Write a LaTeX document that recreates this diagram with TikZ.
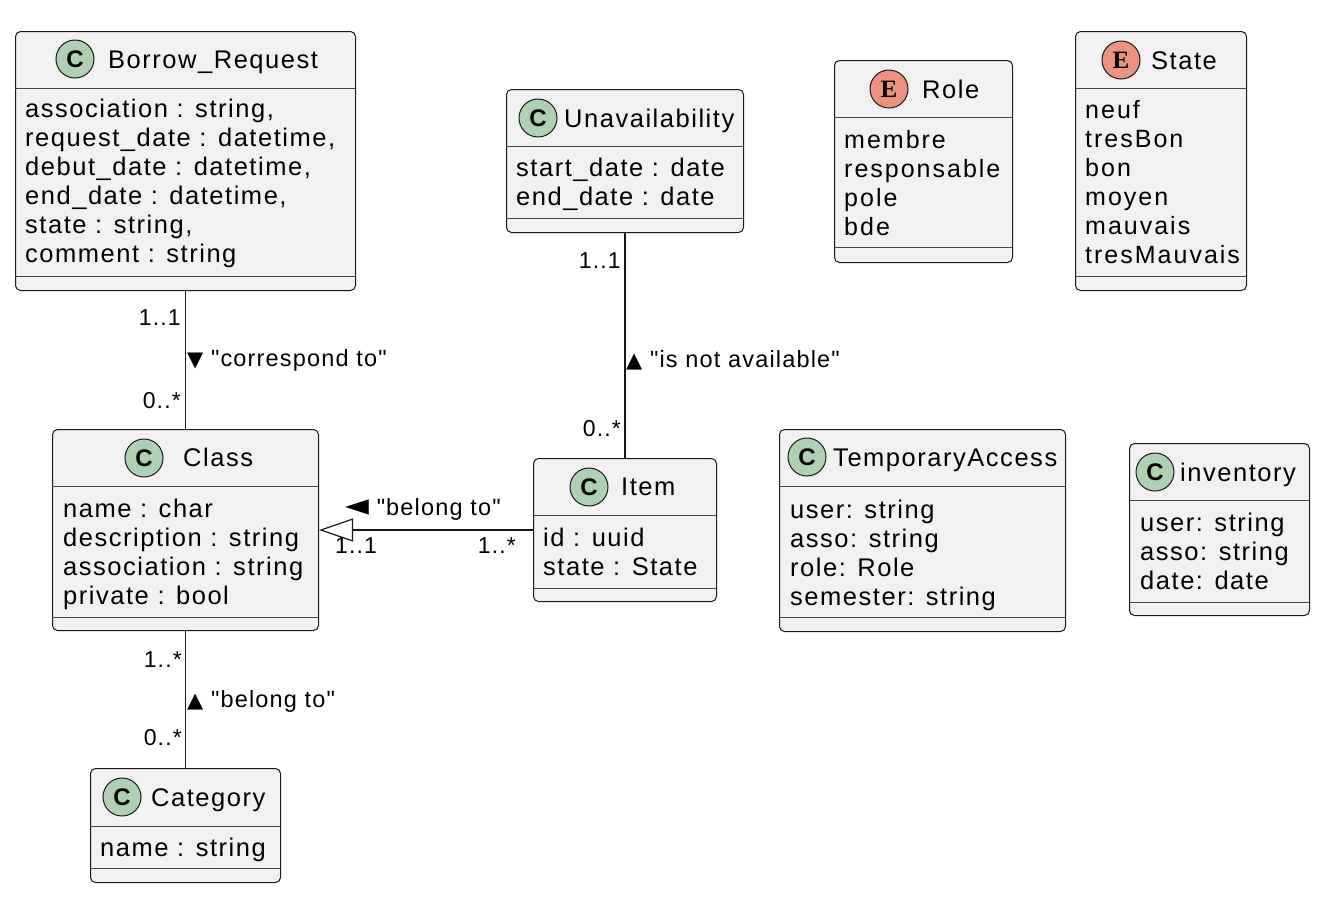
\documentclass[tikz,border=0pt]{standalone}
\usepackage{fontspec}
\setmainfont{Liberation Sans}[LetterSpace=6]
\newfontfamily\enumfont{Liberation Sans}[LetterSpace=8]
\newfontfamily\lblfont{Liberation Sans}[LetterSpace=5]
\newfontfamily\symfont{DejaVu Sans}
\newfontfamily\eserif{Liberation Serif}
\usetikzlibrary{arrows.meta}
\definecolor{boxfill}{HTML}{F1F1F1}
\definecolor{boxline}{HTML}{181818}
\definecolor{ciconfill}{HTML}{ADD1B2}
\definecolor{eiconfill}{HTML}{EB937F}
\tikzset{
  umlbox/.style={draw=boxline, fill=boxfill, line width=1pt, rounded corners=5pt, inner sep=0pt, anchor=north west},
  sepline/.style={draw=boxline!80, line width=1pt},
  cicon/.style={circle, draw=boxline, fill=ciconfill, line width=1pt, minimum size=38pt, inner sep=0pt, font=\fontsize{24}{24}\selectfont\bfseries},
  eicon/.style={circle, draw=boxline, fill=eiconfill, line width=1pt, minimum size=38pt, inner sep=0pt, font=\fontsize{25}{25}\selectfont\eserif\bfseries},
  umltitle/.style={anchor=base west, inner sep=0pt, font=\fontsize{25.5}{29}\selectfont},
  attr/.style={anchor=base west, inner sep=0pt, font=\fontsize{25.5}{29}\selectfont},
  enumitem/.style={anchor=base west, inner sep=0pt, font=\fontsize{25}{29}\selectfont\enumfont},
  conn/.style={draw=boxline, line width=1.5pt},
  mult/.style={anchor=base east, inner sep=0pt, font=\fontsize{23}{27}\selectfont\lblfont},
  multl/.style={anchor=base west, inner sep=0pt, font=\fontsize{23}{27}\selectfont\lblfont},
  edgelbl/.style={anchor=base west, inner sep=0pt, font=\fontsize{23.5}{27}\selectfont\lblfont},
}
\newcommand\trisym[2][21]{{\fontsize{#1}{#1}\selectfont\symfont #2}}
\begin{document}
\begin{tikzpicture}[x=1pt,y=-1pt]
\useasboundingbox[fill=white] (0,0) rectangle (1332,898);

% ---------- Borrow_Request ----------
\node[umlbox, minimum width=340pt, minimum height=259pt] (br) at (15,31) {};
\draw[sepline] (15,88) -- (355,88);
\draw[sepline] (15,276) -- (355,276);
\node[cicon] (bric) at (75,59) {C};
\node[umltitle] (brt) at (108,68) {Borrow\_Request};
\node[attr] (br1) at (25,117) {association : string,};
\node[attr] (br2) at (25,146) {request\_date : datetime,};
\node[attr] (br3) at (25,175) {debut\_date : datetime,};
\node[attr] (br4) at (25,204) {end\_date : datetime,};
\node[attr] (br5) at (25,233) {state : string,};
\node[attr] (br6) at (25,262) {comment : string};

% ---------- Unavailability ----------
\node[umlbox, minimum width=237pt, minimum height=143pt] (unav) at (506,89) {};
\draw[sepline] (506,146) -- (743,146);
\draw[sepline] (506,218) -- (743,218);
\node[cicon] (unic) at (538,118) {C};
\node[umltitle] (unt) at (564,127) {Unavailability};
\node[attr] (un1) at (516,176) {start\_date : date};
\node[attr] (un2) at (516,205) {end\_date : date};

% ---------- Role ----------
\node[umlbox, minimum width=178pt, minimum height=202pt] (role) at (834,60) {};
\draw[sepline] (834,117) -- (1012,117);
\draw[sepline] (834,247) -- (1012,247);
\node[eicon] (roic) at (889,89) {E};
\node[umltitle] (rot) at (922,98) {Role};
\node[enumitem] (ro1) at (844,148) {membre};
\node[enumitem] (ro2) at (844,177) {responsable};
\node[enumitem] (ro3) at (844,206) {pole};
\node[enumitem] (ro4) at (844,235) {bde};

% ---------- State ----------
\node[umlbox, minimum width=171pt, minimum height=259pt] (state) at (1075,31) {};
\draw[sepline] (1075,88) -- (1246,88);
\draw[sepline] (1075,276) -- (1246,276);
\node[eicon] (stic) at (1121,60) {E};
\node[umltitle] (stt) at (1151,69) {State};
\node[enumitem] (st1) at (1085,118) {neuf};
\node[enumitem] (st2) at (1085,147) {tresBon};
\node[enumitem] (st3) at (1085,176) {bon};
\node[enumitem] (st4) at (1085,205) {moyen};
\node[enumitem] (st5) at (1085,234) {mauvais};
\node[enumitem] (st6) at (1085,263) {tresMauvais};

% ---------- Class ----------
\node[umlbox, minimum width=266pt, minimum height=201pt] (cls) at (52,429) {};
\draw[sepline] (52,486) -- (318,486);
\draw[sepline] (52,617) -- (318,617);
\node[cicon] (clic) at (144,458) {C};
\node[umltitle] (clt) at (183,466) {Class};
\node[attr] (cl1) at (63,517) {name : char};
\node[attr] (cl2) at (63,546) {description : string};
\node[attr] (cl3) at (63,575) {association : string};
\node[attr] (cl4) at (63,604) {private : bool};

% ---------- Item ----------
\node[umlbox, minimum width=183pt, minimum height=143pt] (item) at (533,458) {};
\draw[sepline] (533,515) -- (716,515);
\draw[sepline] (533,588) -- (716,588);
\node[cicon] (itic) at (589,487) {C};
\node[umltitle] (itt) at (621,495) {Item};
\node[attr] (it1) at (543,546) {id : uuid};
\node[attr] (it2) at (543,575) {state : State};

% ---------- TemporaryAccess ----------
\node[umlbox, minimum width=286pt, minimum height=202pt] (tmp) at (779,429) {};
\draw[sepline] (779,486) -- (1065,486);
\draw[sepline] (779,617) -- (1065,617);
\node[cicon] (taic) at (807,457) {C};
\node[umltitle] (tat) at (833,466) {TemporaryAccess};
\node[attr] (ta1) at (790,518) {user: string};
\node[attr] (ta2) at (790,547) {asso: string};
\node[attr] (ta3) at (790,576) {role: Role};
\node[attr] (ta4) at (790,605) {semester: string};

% ---------- inventory ----------
\node[umlbox, minimum width=180pt, minimum height=172pt] (inv) at (1129,443) {};
\draw[sepline] (1129,500) -- (1309,500);
\draw[sepline] (1129,602) -- (1309,602);
\node[cicon] (inic) at (1155,472) {C};
\node[umltitle] (int) at (1180,481) {inventory};
\node[attr] (in1) at (1140,531) {user: string};
\node[attr] (in2) at (1140,560) {asso: string};
\node[attr] (in3) at (1140,589) {date: date};

% ---------- Category ----------
\node[umlbox, minimum width=190pt, minimum height=114pt] (cat) at (90,768) {};
\draw[sepline] (90,826) -- (280,826);
\draw[sepline] (90,868) -- (280,868);
\node[cicon] (caic) at (122,797) {C};
\node[umltitle] (catt) at (151,806) {Category};
\node[attr] (ca1) at (100,856) {name : string};

% ---------- connectors ----------
\draw[conn] (br.south) -- (cls.north);
\node[mult] (m1) at (181,325) {1..1};
\node[mult] (m2) at (181,408) {0..*};
\node[edgelbl] (l1) at (187,366) {\trisym{▼} "correspond to"};

\draw[conn] (unav.south) -- (item.north);
\node[mult] (m3) at (621,268) {1..1};
\node[mult] (m4) at (621,436) {0..*};
\node[edgelbl] (l2) at (626,367) {\trisym{▲} "is not available"};

\draw[conn, -{Triangle[fill=white, length=34pt, width=23pt, line width=1.2pt]}] (item.west) -- (cls.east);
\node[edgelbl] (l3) at (345,515) {\trisym[31]{◄} "belong to"};
\node[multl] (m5) at (335,553) {1..1};
\node[mult] (m6) at (516,553) {1..*};

\draw[conn] (cls.south) -- (cat.north);
\node[mult] (m7) at (182,667) {1..*};
\node[mult] (m8) at (182,745) {0..*};
\node[edgelbl] (l4) at (187,707) {\trisym{▲} "belong to"};
\end{tikzpicture}
\end{document}
